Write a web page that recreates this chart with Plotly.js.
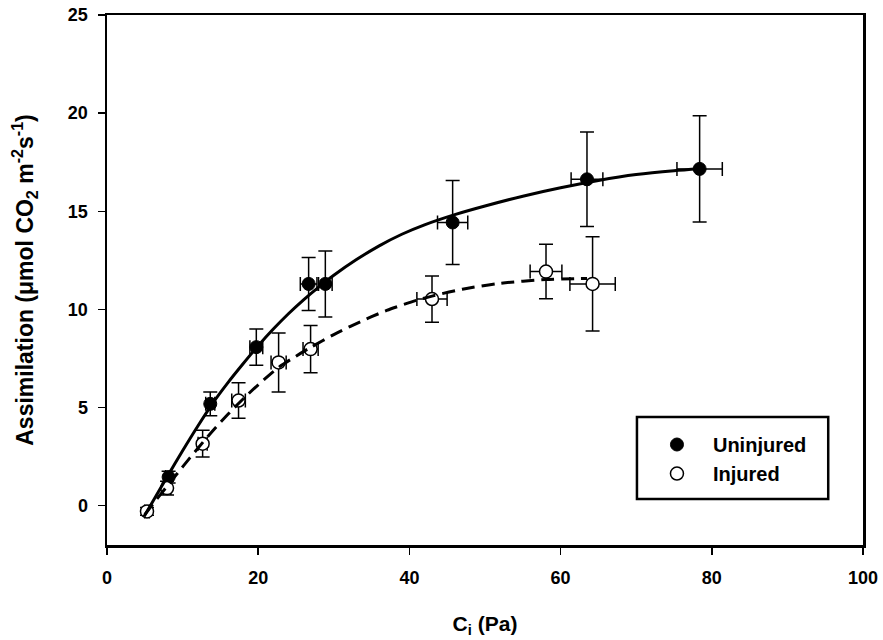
<!DOCTYPE html>
<html>
<head>
<meta charset="utf-8">
<script src="https://cdn.plot.ly/plotly-3.0.1.min.js"></script>
<style>html,body{margin:0;padding:0;background:#fff;}#chart{width:883px;height:640px;}</style>
</head>
<body>
<div id="chart"></div>
<script>
// Uninjured (filled circles)
var uninjX    = [8.15, 13.66, 19.75, 26.67, 28.88, 45.72, 63.49, 78.39];
var uninjY    = [1.46, 5.19, 8.08, 11.30, 11.30, 14.43, 16.63, 17.16];
var uninjYerr = [0.30, 0.60, 0.92, 1.35, 1.68, 2.14, 2.41, 2.71];
var uninjXerr = [0.40, 0.60, 0.85, 1.10, 0.90, 2.00, 2.10, 3.00];

// Injured (open circles)
var injX    = [5.29, 7.94, 12.65, 17.40, 22.70, 26.93, 42.99, 58.07, 64.23];
var injY    = [-0.29, 0.90, 3.16, 5.36, 7.30, 7.98, 10.53, 11.93, 11.30];
var injYerr = [0.20, 0.35, 0.68, 0.90, 1.50, 1.20, 1.18, 1.39, 2.40];
var injXerr = [0.30, 0.50, 0.60, 0.90, 1.00, 1.00, 2.00, 2.10, 3.00];

// Fitted curves
var fitUninjX = [4.9, 6, 8, 10, 12, 14, 16, 18, 20, 22, 24, 26, 28, 30, 33, 36, 39, 42, 46, 50, 55, 60, 65, 70, 75, 78.4];
var fitUninjY = [-0.55, 0.18, 1.5, 2.8, 4.05, 5.23, 6.27, 7.23, 8.15, 9.0, 9.78, 10.49, 11.14, 11.74, 12.54, 13.24, 13.83, 14.31, 14.83, 15.27, 15.77, 16.2, 16.57, 16.87, 17.07, 17.17];
var fitInjX = [5.0, 6, 8, 10, 12, 14, 16, 18, 20, 22.6, 25, 27, 30, 32.2, 35, 37, 41, 43, 47, 52, 58, 63.5];
var fitInjY = [-0.45, 0.05, 1.02, 1.98, 2.92, 3.82, 4.66, 5.44, 6.16, 7.02, 7.62, 8.08, 8.72, 9.14, 9.63, 9.95, 10.47, 10.68, 11.03, 11.33, 11.52, 11.58];

var xTicks = [0, 20, 40, 60, 80, 100];
var yTicks = [0, 5, 10, 15, 20, 25];

var FONT = '"Liberation Sans", Arial, sans-serif';

var traces = [
  {
    x: uninjX, y: uninjY, type: 'scatter', mode: 'markers', name: 'Uninjured',
    marker: {size: 13, color: '#000', line: {color: '#000', width: 1}},
    error_y: {type: 'data', array: uninjYerr, visible: true, color: '#000', thickness: 1.5, width: 7},
    error_x: {type: 'data', array: uninjXerr, visible: true, color: '#000', thickness: 1.5, width: 7}
  },
  {
    x: injX, y: injY, type: 'scatter', mode: 'markers', name: 'Injured',
    marker: {size: 13, color: '#fff', line: {color: '#000', width: 1.5}},
    error_y: {type: 'data', array: injYerr, visible: true, color: '#000', thickness: 1.5, width: 7},
    error_x: {type: 'data', array: injXerr, visible: true, color: '#000', thickness: 1.5, width: 7}
  },
  {
    x: fitUninjX, y: fitUninjY, type: 'scatter', mode: 'lines', showlegend: false,
    line: {color: '#000', width: 3, shape: 'spline', smoothing: 0.8}
  },
  {
    x: fitInjX, y: fitInjY, type: 'scatter', mode: 'lines', showlegend: false,
    line: {color: '#000', width: 3, dash: '13px,7px', shape: 'spline', smoothing: 0.8}
  }
];

var layout = {
  width: 883, height: 640,
  margin: {l: 107, r: 20, t: 15, b: 95},
  paper_bgcolor: '#fff', plot_bgcolor: '#fff',
  font: {family: FONT, color: '#000'},
  xaxis: {
    range: [0, 100], tickvals: xTicks, ticktext: xTicks.map(String),
    showgrid: false, zeroline: false,
    showline: true, linecolor: '#000', linewidth: 2.5, mirror: true,
    ticks: 'outside', ticklen: 7, tickwidth: 1.5, tickcolor: '#000',
    tickfont: {family: FONT, size: 18, color: '#000', weight: 'bold'},
    ticklabelstandoff: 8,
    title: {text: '<b>C<sub>i</sub> (Pa)</b>', font: {family: FONT, size: 21, color: '#000'}, standoff: 29}
  },
  yaxis: {
    range: [-2, 25], tickvals: yTicks, ticktext: yTicks.map(String),
    showgrid: false, zeroline: false,
    showline: true, linecolor: '#000', linewidth: 2.5, mirror: true,
    ticks: 'outside', ticklen: 7, tickwidth: 1.5, tickcolor: '#000',
    tickfont: {family: FONT, size: 18, color: '#000', weight: 'bold'},
    ticklabelstandoff: 6,
    title: {text: '<b>Assimilation (μmol CO<sub>2</sub> m<sup>-2</sup>s<sup>-1</sup>)</b>', font: {family: FONT, size: 23, color: '#000'}, standoff: 28}
  },
  showlegend: true,
  legend: {
    x: 0.7063, y: 0.2264, xanchor: 'left', yanchor: 'top',
    bgcolor: 'rgba(0,0,0,0)', borderwidth: 0,
    font: {family: FONT, size: 20, color: '#000', weight: 'bold'},
    itemwidth: 62
  },
  shapes: [{
    type: 'rect', xref: 'paper', yref: 'paper',
    x0: 0.701, x1: 0.954, y0: 0.0868, y1: 0.2415,
    line: {color: '#000', width: 2.5}, fillcolor: '#fff', layer: 'below'
  }]
};

Plotly.newPlot('chart', traces, layout, {displayModeBar: false, staticPlot: true});
</script>
</body>
</html>
